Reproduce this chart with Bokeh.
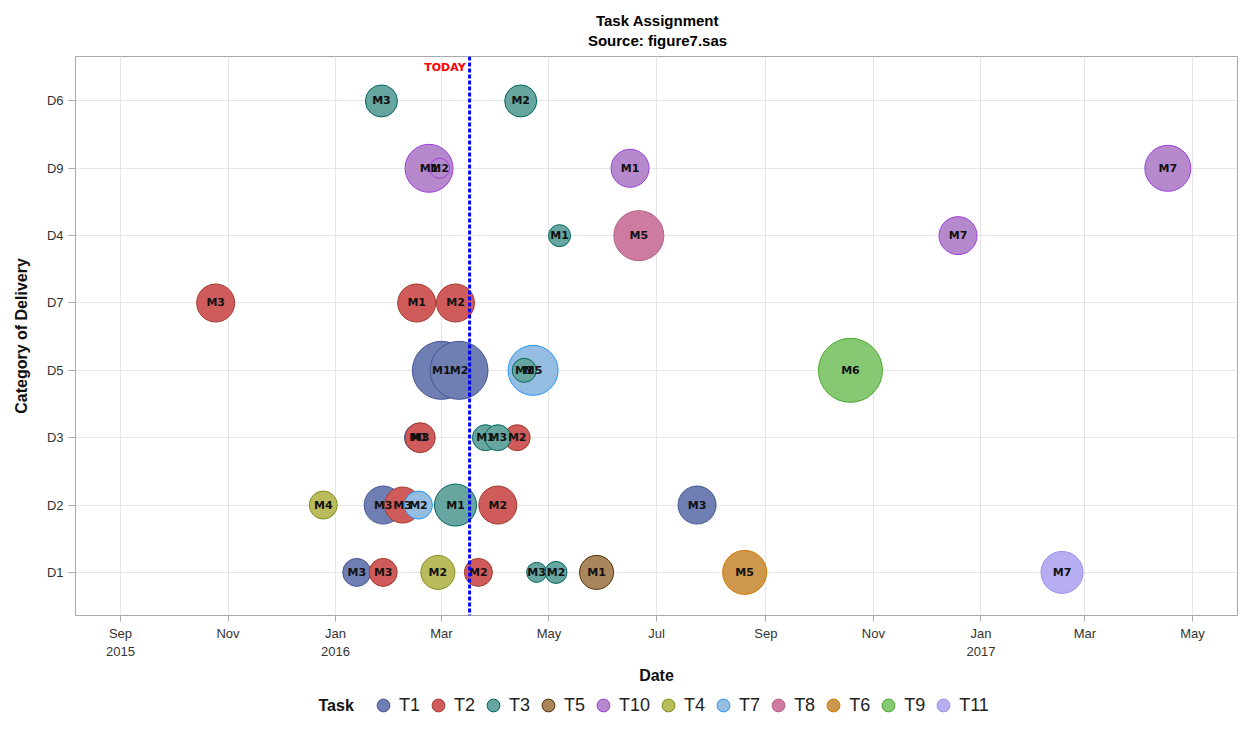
import pandas as pd
from bokeh.plotting import figure
from bokeh.layouts import column
from bokeh.models import (ColumnDataSource, Range1d, FixedTicker, Span, Label,
                          Legend, LegendItem)
from bokeh.core.properties import value
from bokeh.embed import file_html
from bokeh.resources import INLINE

# ---------------- data ----------------
title_lines = ["Task Assignment", "Source: figure7.sas"]
x_title = "Date"
y_title = "Category of Delivery"
legend_title = "Task"

# categories, bottom to top
deliveries = ["D1", "D2", "D3", "D5", "D7", "D4", "D9", "D6"]
legend_order = ["T1", "T2", "T3", "T5", "T10", "T4", "T7", "T8", "T6", "T9", "T11"]
draw_order = ["T1", "T2", "T7", "T3", "T5", "T10", "T4", "T8", "T6", "T9", "T11"]

task = ["T3", "T3",
        "T10", "T10", "T10", "T10",
        "T3", "T8", "T10",
        "T2", "T2", "T2",
        "T1", "T1", "T7", "T3", "T9",
        "T1", "T2", "T3", "T3", "T2",
        "T4", "T1", "T2", "T7", "T3", "T2", "T1",
        "T1", "T2", "T4", "T2", "T3", "T3", "T5", "T6", "T11"]
delivery = ["D6", "D6",
            "D9", "D9", "D9", "D9",
            "D4", "D4", "D4",
            "D7", "D7", "D7",
            "D5", "D5", "D5", "D5", "D5",
            "D3", "D3", "D3", "D3", "D3",
            "D2", "D2", "D2", "D2", "D2", "D2", "D2",
            "D1", "D1", "D1", "D1", "D1", "D1", "D1", "D1", "D1"]
dates = ["2016-01-27", "2016-04-15",
         "2016-02-23", "2016-02-29", "2016-06-16", "2017-04-17",
         "2016-05-07", "2016-06-21", "2016-12-19",
         "2015-10-25", "2016-02-16", "2016-03-09",
         "2016-03-01", "2016-03-11", "2016-04-22", "2016-04-17", "2016-10-19",
         "2016-02-17", "2016-02-18", "2016-03-26", "2016-04-02", "2016-04-13",
         "2015-12-25", "2016-01-28", "2016-02-08", "2016-02-17", "2016-03-09", "2016-04-02", "2016-07-24",
         "2016-01-13", "2016-01-28", "2016-02-28", "2016-03-22", "2016-04-24", "2016-05-05", "2016-05-28", "2016-08-20", "2017-02-16"]
effort = [16, 16,
          24, 10, 19, 23,
          11, 25, 19,
          19, 19, 19,
          29, 29, 25, 12, 32,
          14, 15, 13, 13, 13,
          14, 19, 18, 14, 21, 19, 19,
          14, 14, 17, 14, 10, 11, 17, 22, 21]
milestone = ["M3", "M2",
             "M1", "M2", "M1", "M7",
             "M1", "M5", "M7",
             "M3", "M1", "M2",
             "M1", "M2", "M5", "M1", "M6",
             "M1", "M3", "M1", "M3", "M2",
             "M4", "M3", "M3", "M2", "M1", "M2", "M3",
             "M3", "M3", "M2", "M2", "M3", "M2", "M1", "M5", "M7"]

x_ticks = ["2015-09-01", "2015-11-01", "2016-01-01", "2016-03-01", "2016-05-01", "2016-07-01",
           "2016-09-01", "2016-11-01", "2017-01-01", "2017-03-01", "2017-05-01"]
x_tick_labels = ["Sep\n2015", "Nov", "Jan\n2016", "Mar", "May", "Jul",
                 "Sep", "Nov", "Jan\n2017", "Mar", "May"]
today = "2016-03-17"
today_text = "TODAY"

task_fill = {"T1": "#6F7EB3", "T2": "#D05B5B", "T3": "#66A5A0", "T5": "#A9865B",
             "T10": "#B689CD", "T4": "#BABC5C", "T7": "#94BDE1", "T8": "#CD7BA1",
             "T6": "#CF974B", "T9": "#87C873", "T11": "#B7AEF1"}
task_line = {"T1": "#445694", "T2": "#A23A2E", "T3": "#01665E", "T5": "#543005",
             "T10": "#9D3CDB", "T4": "#7F8E1F", "T7": "#2597FA", "T8": "#B26084",
             "T6": "#D17800", "T9": "#47A82A", "T11": "#9A8EF0"}

# ---------------- layout ----------------
W = 1247
TITLE_H = 55
B_LEFT, B_RIGHT, B_TOP, B_BOTTOM = 75, 10, 1, 72
FRAME_H = 559
LEGEND_H = 40

x_start = pd.Timestamp("2015-08-06 12:00")
x_end = pd.Timestamp("2017-05-26 12:00")
y_start, y_end = 0.36, 8.66


def y_at(px_from_top):
    return y_end - (y_end - y_start) * (px_from_top / FRAME_H)


def blank_fig(h):
    # strip whose frame is aligned with the main frame; data units = page pixels
    f = figure(width=W, height=h, x_range=Range1d(B_LEFT, W - B_RIGHT), y_range=Range1d(0, h),
               output_backend="svg", toolbar_location=None, title=None,
               x_axis_location=None, y_axis_location=None,
               min_border_left=B_LEFT, min_border_right=B_RIGHT,
               min_border_top=0, min_border_bottom=0)
    f.outline_line_color = None
    f.grid.grid_line_color = None
    f.background_fill_color = "white"
    f.border_fill_color = "white"
    return f


# ---- title strip ----
tf = blank_fig(TITLE_H)
tf.add_layout(Label(x=657, y=TITLE_H - 20, text=title_lines[0], text_align="center",
                    text_baseline="middle", text_font="Liberation Sans", text_font_style="bold",
                    text_font_size="15px", text_color="#000000"))
tf.add_layout(Label(x=657, y=TITLE_H - 40, text=title_lines[1], text_align="center",
                    text_baseline="middle", text_font="Liberation Sans", text_font_style="bold",
                    text_font_size="15px", text_color="#000000"))

# ---- main plot ----
p = figure(width=W, height=B_TOP + FRAME_H + B_BOTTOM, x_axis_type="datetime",
           x_range=Range1d(x_start, x_end), y_range=Range1d(y_start, y_end),
           output_backend="svg", toolbar_location=None, title=None,
           min_border_left=B_LEFT, min_border_right=B_RIGHT,
           min_border_top=B_TOP, min_border_bottom=B_BOTTOM)
p.background_fill_color = "white"
p.border_fill_color = "white"
p.outline_line_color = "#A8A8A8"
p.outline_line_width = 1

tick_ms = [int(pd.Timestamp(t).value // 10**6) for t in x_ticks]
p.xaxis.ticker = FixedTicker(ticks=tick_ms)
p.xaxis.major_label_overrides = {ms: lab for ms, lab in zip(tick_ms, x_tick_labels)}
p.yaxis.ticker = FixedTicker(ticks=list(range(1, len(deliveries) + 1)))
p.yaxis.major_label_overrides = {i + 1: d for i, d in enumerate(deliveries)}

for ax in (p.xaxis[0], p.yaxis[0]):
    ax.axis_line_color = None
    ax.major_tick_line_color = "#A8A8A8"
    ax.minor_tick_line_color = None
    ax.major_tick_in = 0
    ax.major_label_text_font = "Liberation Sans"
    ax.major_label_text_font_size = "13px"
    ax.major_label_text_color = "#333333"
    ax.axis_label_text_font = "Liberation Sans"
    ax.axis_label_text_font_style = "bold"
    ax.axis_label_text_font_size = "16px"
    ax.axis_label_text_color = "#111111"

p.xaxis.major_tick_out = 6
p.xaxis.major_label_standoff = 4
p.xaxis.axis_label = x_title
p.xaxis.axis_label_standoff = 5
p.yaxis.major_tick_out = 7
p.yaxis.major_label_standoff = 5
p.yaxis.axis_label = y_title
p.yaxis.axis_label_standoff = 14

p.xgrid.grid_line_color = "#E6E6E6"
p.ygrid.grid_line_color = "#E6E6E6"

xs = pd.to_datetime(dates)
ys = [deliveries.index(d) + 1 for d in delivery]
sizes = [2 * e for e in effort]

for t in draw_order:
    idx = [i for i, tt in enumerate(task) if tt == t]
    src = ColumnDataSource(dict(x=[xs[i] for i in idx], y=[ys[i] for i in idx],
                                s=[sizes[i] for i in idx]))
    p.scatter(x="x", y="y", size="s", source=src, marker="circle",
              fill_color=task_fill[t], fill_alpha=1.0,
              line_color=task_line[t], line_width=1)

label_src = ColumnDataSource(dict(x=list(xs), y=ys, t=milestone))
p.text(x="x", y="y", text="t", source=label_src, text_font=value("DejaVu Sans"),
       text_font_style="bold", text_font_size="11px", text_align="center",
       text_baseline="middle", text_color="#111111")

p.add_layout(Span(location=pd.Timestamp(today), dimension="height", line_color="#0000FF",
                  line_width=3, line_dash="4 2"))
p.add_layout(Label(x=pd.Timestamp(today), y=y_at(11), text=today_text, x_offset=-4,
                   text_align="right", text_baseline="middle", text_color="#FF0000",
                   text_font="DejaVu Sans", text_font_style="bold", text_font_size="11px"))

# ---- legend strip ----
lf = blank_fig(LEGEND_H)
items = []
nan = float("nan")
for t in legend_order:
    # swatch-only renderer (NaN point, never drawn) so the legend can show the task colour
    r = lf.scatter(x=[nan], y=[nan], size=10, marker="circle", fill_color=task_fill[t],
                   line_color=task_line[t], line_width=1)
    items.append(LegendItem(label=t, renderers=[r]))
GLYPH = 32
LEG_X = 383 - GLYPH // 2 - B_LEFT     # frame-relative px of the legend's left edge
LEG_MID = 18                          # legend centre, px below the strip top
legend = Legend(items=items, orientation="horizontal",
                location=(LEG_X, LEGEND_H - LEG_MID - GLYPH // 2),
                glyph_width=GLYPH, glyph_height=GLYPH, label_standoff=-2, spacing=2,
                padding=0, margin=0, border_line_color=None, background_fill_alpha=0,
                label_text_font="Liberation Sans", label_text_font_size="18px",
                label_text_color="#222222", label_width=20)
lf.add_layout(legend, "center")
lf.add_layout(Label(x=318, y=LEGEND_H - LEG_MID, text=legend_title, text_align="left",
                    text_baseline="middle", text_font="Liberation Sans", text_font_style="bold",
                    text_font_size="16px", text_color="#111111"))

layout = column(tf, p, lf, spacing=0)
open("out.html", "w").write(file_html(layout, INLINE))
